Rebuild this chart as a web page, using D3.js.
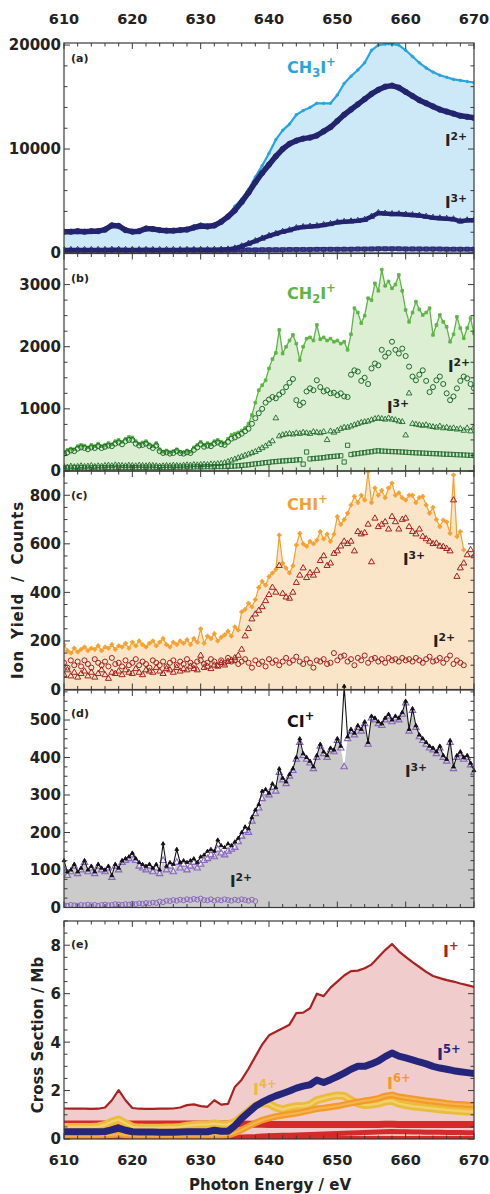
<!DOCTYPE html>
<html><head><meta charset="utf-8">
<script src="https://cdn.jsdelivr.net/npm/d3@7"></script>
<style>body{margin:0;background:#fff}svg{display:block}text{font-family:"DejaVu Sans",sans-serif}</style>
</head><body><svg id="c" width="490" height="1194"></svg>
<script>
// ---------- DATA (x = 610 + i*step) ----------
const xTicks = [610,620,630,640,650,660,670];
// Panel (a), 1 eV step
const aCH3I = [2150,2150,2200,2150,2200,2250,2350,2800,2750,2300,
 2150,2200,2450,2400,2300,2250,2250,2300,2350,2600,
 2800,2700,2750,3000,3600,4500,5200,6100,7300,8400,
 9600,10900,11800,12400,13300,13700,14000,14400,14400,14400,
 15200,16300,17000,17600,18300,19500,20000,20100,20100,20000,
 19500,18900,18300,17800,17400,17100,16900,16700,16600,16500,16400];
const aI2 = [2050,2050,2100,2050,2100,2100,2250,2650,2600,2200,
 2050,2100,2350,2300,2200,2150,2150,2200,2250,2450,
 2600,2550,2650,3000,3500,4100,4900,5800,6800,7700,
 8500,9300,10000,10500,10800,11000,11100,11300,11700,12100,
 12700,13300,13800,14300,14800,15300,15700,16000,16100,15900,
 15500,15100,14700,14400,14100,13800,13600,13400,13200,13100,13000];
const aI3 = [300,300,300,300,300,300,300,320,320,300,
 300,300,310,300,300,300,300,300,310,310,
 310,310,320,330,350,450,650,900,1150,1400,
 1650,1850,2050,2200,2400,2500,2550,2600,2700,2800,
 2950,3000,3050,3100,3200,3500,3850,3800,3750,3750,
 3700,3650,3600,3500,3400,3350,3300,3250,3050,3150,3150];
const aI4 = [260,260,260,260,260,260,260,260,260,260,
 260,260,260,260,260,260,260,260,260,260,
 260,260,260,260,270,280,290,300,300,310,
 310,320,320,330,330,340,340,350,350,360,
 360,370,370,380,380,390,400,400,400,400,
 390,390,390,380,380,380,370,370,370,370,370];
// Panel (b), 0.5 eV step
const bCH2I = [300,340,360,350,400,420,410,380,420,400,
 440,400,420,450,430,480,500,470,520,550,
 540,480,440,460,480,430,400,450,350,310,
 330,300,320,350,310,300,330,310,380,420,
 470,420,450,430,480,500,470,450,520,580,
 600,620,650,690,760,900,1100,1300,1380,1460,
 1650,1800,1900,2270,1890,2000,2100,2190,2050,1785,
 2000,2130,2150,2100,2350,2120,2150,2100,2130,2080,
 2100,2050,2080,1950,2200,2620,2550,2380,2500,2780,
 2750,3020,2900,3240,2980,3050,2940,3000,3155,2900,
 2590,2400,2550,2725,2600,2510,2550,2620,2190,2350,
 2510,2400,2320,2080,2200,2480,2300,2135,2300,2460,2215];
const bI2 = [280,300,330,320,360,380,370,350,380,370,
 400,370,390,410,400,440,460,430,480,500,
 500,440,410,420,440,400,370,410,320,290,
 300,280,290,320,290,280,300,290,340,380,
 430,390,410,400,440,460,430,420,470,520,
 540,570,600,640,680,760,850,930,1000,1100,
 1150,1190,1170,1230,1270,1350,1420,1480,1140,1060,
 1100,1280,1330,1300,1460,1350,1280,1300,1250,1260,
 1220,1250,1200,1190,1550,1620,1600,1450,1500,1400,
 1650,1730,1700,1950,1840,1900,2080,1950,1890,1970,
 1850,1680,1520,1460,1550,1620,1450,1270,1350,1460,
 1520,1400,1250,1140,1200,1330,1450,1520,1490,1400,1330];
const bI3 = [70,60,75,65,70,80,70,75,85,70,
 80,75,85,90,80,95,90,85,80,90,
 85,80,90,85,80,90,85,80,75,80,
 85,80,90,85,80,90,95,90,100,95,
 100,105,100,110,110,115,120,130,150,170,
 190,210,230,250,270,290,310,340,370,400,
 440,480,850,560,580,590,600,590,610,600,
 620,610,600,630,620,610,630,500,640,620,
 650,680,700,700,720,740,760,780,790,800,
 820,840,850,840,830,850,830,820,800,790,
 575,1250,760,750,740,730,740,720,710,700,
 720,690,700,680,690,670,680,650,690,640,700];
const bI4 = [45,50,48,52,50,55,50,48,52,55,
 50,53,55,58,55,60,58,55,57,60,
 58,55,57,60,58,62,60,58,55,57,
 60,58,60,62,60,63,65,62,65,68,
 65,68,70,68,70,72,70,72,75,78,
 80,85,90,95,100,108,115,120,128,135,
 140,148,152,158,162,165,170,172,178,182,
 110,306,195,200,205,210,215,225,230,235,
 240,245,145,414,265,275,280,290,295,305,
 310,320,325,320,318,315,312,310,308,305,
 302,298,295,292,290,288,285,282,280,278,
 275,272,270,268,265,262,260,258,255,252,250];
// Panel (c), 0.5 eV step
const cCHI = [185,160,150,170,155,165,175,160,170,165,
 180,160,175,170,185,165,180,175,190,170,
 195,180,200,185,175,190,200,180,195,210,
 185,175,195,185,200,190,205,185,210,195,
 250,190,220,210,230,200,215,225,240,220,
 258,245,320,330,355,340,370,420,445,430,
 465,480,495,636,520,500,480,510,595,643,
 600,590,610,600,615,650,620,640,610,640,
 712,680,700,726,760,795,770,800,780,897,
 770,830,800,820,790,830,850,800,810,790,
 780,800,800,770,790,795,760,726,750,700,
 671,698,690,643,884,630,650,575];
const cI3 = [60,80,55,70,50,65,75,55,70,50,
 65,80,60,45,70,65,75,60,80,70,
 65,85,70,60,80,75,70,90,75,65,
 85,80,70,90,75,85,80,95,85,80,
 140,90,95,85,100,95,110,100,115,120,
 130,140,165,220,250,290,310,325,340,365,
 390,420,400,510,395,380,375,400,440,470,
 500,460,480,470,490,530,550,510,520,560,
 570,590,610,600,610,570,650,640,645,680,
 525,705,670,680,690,660,712,690,660,700,
 705,670,650,640,660,630,620,610,600,602,
 590,588,580,570,780,465,500,520,554,575,550];
const cI2 = [110,90,120,100,115,95,120,105,90,125,
 110,100,115,95,130,105,110,95,120,100,
 110,125,100,115,105,90,120,110,100,115,
 95,110,120,100,115,105,125,110,100,115,
 120,105,110,125,115,100,120,110,130,115,
 120,105,115,125,110,90,120,105,115,95,
 125,110,120,100,115,130,110,120,135,115,
 105,125,110,90,120,115,125,105,110,150,
 120,135,140,115,125,100,130,120,140,110,
 125,130,115,125,110,130,120,125,115,130,
 120,125,115,130,120,110,125,135,115,120,
 130,110,125,140,105,120,110,100];
// Panel (d), 0.5 eV step
const dCI = [125,95,100,115,95,105,125,100,110,95,
 115,105,100,110,85,115,105,125,130,135,
 145,130,120,115,110,115,105,115,100,170,
 110,120,115,155,120,125,120,125,130,120,
 135,140,150,155,150,180,165,160,170,165,
 175,185,200,215,210,240,260,275,310,315,
 305,330,320,370,345,335,355,370,400,450,
 410,400,390,375,405,435,415,405,425,420,
 450,430,590,455,475,465,485,475,495,440,
 510,505,495,490,505,515,500,510,505,520,
 550,475,530,485,460,450,440,430,425,415,
 430,405,395,445,375,405,415,400,405,385,365];
const dI3 = [100,85,95,110,90,100,120,95,105,90,
 110,100,95,105,80,110,100,120,125,130,
 140,125,110,105,100,110,95,105,90,125,
 100,110,95,120,105,115,100,110,120,105,
 115,125,130,140,135,155,145,140,150,155,
 160,175,190,205,200,230,250,265,290,305,
 300,320,310,360,340,330,350,365,395,440,
 405,395,385,370,400,430,410,400,420,415,
 445,425,375,450,470,460,480,470,490,435,
 505,500,490,485,500,510,495,505,500,515,
 545,470,525,480,455,445,435,425,420,410,
 425,400,390,440,370,400,410,395,400,380,360];
const dI2 = [6,5,7,6,5,7,6,8,6,7,
 5,7,8,6,7,9,8,7,9,8,
 10,9,11,10,12,11,13,12,16,14,
 18,17,20,18,21,19,22,20,23,21,
 24,20,19,22,18,21,19,22,20,18,
 21,19,22,20,18,21,17];
// Panel (e), 1 eV step, Mb
const eI1 = [1.26,1.25,1.25,1.25,1.24,1.25,1.3,1.6,2.02,1.6,
 1.28,1.25,1.24,1.24,1.25,1.25,1.26,1.3,1.4,1.43,
 1.36,1.33,1.6,1.42,1.45,2.15,2.45,2.9,3.4,3.9,
 4.28,4.43,4.57,4.72,5.2,5.22,5.4,6.0,5.9,6.25,
 6.5,6.75,6.93,6.95,7.05,7.2,7.5,7.8,8.05,7.75,
 7.52,7.3,7.1,6.9,6.73,6.64,6.56,6.5,6.42,6.35,6.28];
const eI5 = [0.3,0.3,0.3,0.3,0.3,0.3,0.31,0.38,0.45,0.36,
 0.3,0.29,0.29,0.29,0.28,0.28,0.28,0.29,0.3,0.3,
 0.3,0.3,0.36,0.32,0.32,0.55,0.85,1.1,1.35,1.52,
 1.66,1.78,1.88,1.98,2.1,2.18,2.24,2.43,2.33,2.45,
 2.58,2.72,2.88,3.0,3.0,3.1,3.22,3.4,3.55,3.42,
 3.35,3.27,3.18,3.1,3.0,2.93,2.88,2.82,2.78,2.74,2.7];
const eI4 = [0.5,0.5,0.5,0.5,0.5,0.52,0.58,0.72,0.8,0.65,
 0.5,0.47,0.46,0.46,0.46,0.47,0.48,0.5,0.55,0.58,
 0.6,0.6,0.64,0.6,0.6,0.7,0.92,1.15,1.38,1.48,
 1.45,1.3,1.22,1.3,1.35,1.35,1.42,1.6,1.68,1.75,
 1.8,1.78,1.6,1.47,1.4,1.42,1.46,1.55,1.58,1.46,
 1.4,1.35,1.32,1.29,1.26,1.23,1.2,1.18,1.16,1.14,1.12];
const eI6 = [0.14,0.14,0.14,0.14,0.14,0.14,0.15,0.17,0.2,0.16,
 0.14,0.14,0.14,0.14,0.14,0.14,0.14,0.14,0.14,0.14,
 0.14,0.14,0.15,0.14,0.16,0.25,0.38,0.52,0.66,0.78,
 0.86,0.93,0.98,1.02,1.06,1.12,1.18,1.25,1.28,1.32,
 1.36,1.42,1.48,1.53,1.58,1.62,1.68,1.78,1.82,1.75,
 1.7,1.66,1.62,1.58,1.55,1.52,1.48,1.45,1.43,1.41,1.4];
const eI2 = [0.62,0.62,0.62,0.62,0.62,0.62,0.62,0.64,0.66,0.63,
 0.62,0.62,0.62,0.62,0.62,0.62,0.62,0.62,0.62,0.62,
 0.62,0.62,0.62,0.62,0.62,0.62,0.62,0.61,0.61,0.61,
 0.6,0.6,0.6,0.6,0.6,0.6,0.6,0.6,0.6,0.6,
 0.6,0.6,0.6,0.6,0.6,0.6,0.6,0.61,0.61,0.6,
 0.6,0.6,0.6,0.6,0.6,0.6,0.6,0.6,0.6,0.6,0.6];
const eI3 = [0.08,0.08,0.08,0.08,0.08,0.08,0.08,0.08,0.08,0.08,
 0.08,0.08,0.08,0.08,0.08,0.08,0.08,0.08,0.08,0.08,
 0.08,0.08,0.08,0.08,0.08,0.08,0.08,0.09,0.1,0.12,
 0.13,0.14,0.15,0.16,0.17,0.18,0.19,0.2,0.21,0.22,
 0.23,0.24,0.25,0.26,0.27,0.28,0.29,0.3,0.31,0.3,
 0.3,0.29,0.29,0.28,0.28,0.28,0.27,0.27,0.27,0.26,0.26];
const eI0 = [0.04,0.04,0.04,0.04,0.04,0.04,0.04,0.04,0.04,0.04,
 0.04,0.04,0.04,0.04,0.04,0.04,0.04,0.04,0.04,0.04,
 0.04,0.04,0.04,0.04,0.04,0.04,0.04,0.04,0.04,0.04,
 0.04,0.04,0.04,0.04,0.04,0.04,0.04,0.04,0.04,0.04,
 0.04,0.04,0.04,0.04,0.04,0.04,0.04,0.04,0.04,0.04,
 0.04,0.04,0.04,0.04,0.04,0.04,0.04,0.04,0.04,0.04,0.04];

// ---------- LAYOUT ----------
const svg = d3.select('#c');
const X = d3.scaleLinear().domain([610,670]).range([64,474]);
const FR = '#3a3a3a', TXT = '#222';
const PANELS = [
 {key:'a', top:43, bot:253, max:20200, major:10000, minor:2000},
 {key:'b', top:253.5, bot:471, max:3500, major:1000, minor:250},
 {key:'c', top:471, bot:689.5, max:900, major:200, minor:50},
 {key:'d', top:690, bot:907.5, max:580, major:100, minor:25},
 {key:'e', top:921, bot:1139, max:9, major:2, minor:0.5}
];
const Y = {};
PANELS.forEach(p => { Y[p.key] = d3.scaleLinear().domain([0,p.max]).range([p.bot,p.top]); });

const defs = svg.append('defs');
const layer = {};
PANELS.forEach(p => {
  defs.append('clipPath').attr('id','clip'+p.key).append('rect')
    .attr('x',64).attr('y',p.top).attr('width',410).attr('height',p.bot-p.top);
  layer[p.key] = svg.append('g').attr('clip-path',`url(#clip${p.key})`);
});

const xOf = step => (d,i) => X(610 + i*step);
function area(g, arr, step, y, color){
  g.append('path').datum(arr).attr('fill',color)
   .attr('d', d3.area().x(xOf(step)).y0(y(0)).y1(d=>y(d)));
}
function line(g, arr, step, y, color, w, extra){
  const p = g.append('path').datum(arr).attr('fill','none').attr('stroke',color)
   .attr('stroke-width',w).attr('stroke-linejoin','round').attr('stroke-linecap','round')
   .attr('d', d3.line().x(xOf(step)).y(d=>y(d)));
  if (extra) extra(p);
}
function syms(g, arr, step, y, type, size, color, filled, sw){
  g.append('g').selectAll('path').data(arr).join('path')
   .attr('transform',(d,i)=>`translate(${X(610+i*step)},${y(d)})`)
   .attr('d', d3.symbol().type(type).size(size))
   .attr('fill', filled ? color : 'none').attr('stroke', color).attr('stroke-width', sw||0.9);
}

// ---------- Panel a ----------
{const g = layer.a, y = Y.a, c = '#29a4de', nv = '#24246e';
 area(g, aCH3I, 1, y, '#cde9f7');
 line(g, aCH3I, 1, y, c, 2.2);
 syms(g, aCH3I, 1, y, d3.symbolCircle, 5, c, true);
 line(g, aI4, 1, y, '#3a3a86', 4.5);
 syms(g, aI4, 1, y, d3.symbolSquare, 16, nv, false, 0.8);
 line(g, aI3, 1, y, nv, 4.5);
 syms(g, aI3, 1, y, d3.symbolTriangle, 16, nv, false, 0.9);
 line(g, aI2, 1, y, nv, 5.5);
 syms(g, aI2, 1, y, d3.symbolCircle, 22, nv, false, 1);
}
// ---------- Panel b ----------
{const g = layer.b, y = Y.b, c = '#5db447', dg = '#1e6a2c';
 area(g, bCH2I, 0.5, y, '#dcefd3');
 line(g, bCH2I, 0.5, y, c, 1.3);
 syms(g, bCH2I, 0.5, y, d3.symbolSquare, 7, c, true);
 syms(g, bI4, 0.5, y, d3.symbolSquare, 18, dg, false, 0.9);
 syms(g, bI3, 0.5, y, d3.symbolTriangle, 14, dg, false, 0.9);
 syms(g, bI2, 0.5, y, d3.symbolCircle, 20, dg, false, 1);
}
// ---------- Panel c ----------
{const g = layer.c, y = Y.c, c = '#f5a030', dr = '#a3201f';
 const fillC = d3.range(cI3.length).map(i => i < cCHI.length ? cCHI[i] : cI3[i]);
 area(g, fillC, 0.5, y, '#fbe5c8');
 line(g, cCHI, 0.5, y, c, 1.2);
 syms(g, cCHI, 0.5, y, d3.symbolCross, 8, c, true);
 syms(g, cI2, 0.5, y, d3.symbolCircle, 20, dr, false, 1);
 syms(g, cI3, 0.5, y, d3.symbolTriangle, 16, dr, false, 1);
}
// ---------- Panel d ----------
{const g = svg.append('g'), y = Y.d, pu = '#8a66c0';
 area(layer.d, dI3, 0.5, y, '#cbcbcb');
 syms(layer.d, dI2, 0.5, y, d3.symbolCircle, 18, pu, false, 1);
 syms(layer.d, dI3, 0.5, y, d3.symbolTriangle, 18, pu, false, 1.1);
 line(g, dCI, 0.5, y, '#111', 1.1);
 syms(g, dCI, 0.5, y, d3.symbolTriangle, 6, '#111', true);
}
// ---------- Panel e ----------
{const g = layer.e, y = Y.e;
 area(g, eI1, 1, y, '#f0cccc');
 line(g, eI0, 1, y, '#d42a2a', 4);
 line(g, eI3, 1, y, '#d42a2a', 5);
 line(g, eI2, 1, y, '#d42a2a', 7);
 line(g, eI4, 1, y, '#ebbb3a', 8);
 line(g, eI4, 1, y, '#f2d06e', 2.5);
 line(g, eI6, 1, y, '#f39a28', 6.5);
 line(g, eI6, 1, y, '#f6b453', 2);
 line(g, eI5, 1, y, '#25257c', 7);
 line(g, eI1, 1, y, '#a82222', 2.2);
}

// ---------- Frames & ticks ----------
PANELS.forEach(p => {
  const g = svg.append('g'), y = Y[p.key];
  g.append('rect').attr('x',64).attr('y',p.top).attr('width',410).attr('height',p.bot-p.top)
   .attr('fill','none').attr('stroke',FR).attr('stroke-width',1.2);
  const yMaj = d3.range(0, p.max + 1e-9, p.major);
  const yMin = d3.range(0, p.max + 1e-9, p.minor).filter(v => Math.abs(v/p.major - Math.round(v/p.major)) > 1e-6);
  const tk = (x1,y1,x2,y2) => g.append('line').attr('x1',x1).attr('y1',y1).attr('x2',x2).attr('y2',y2).attr('stroke',FR).attr('stroke-width',1);
  yMaj.forEach(v => { tk(64,y(v),70,y(v)); tk(474,y(v),468,y(v)); });
  yMin.forEach(v => { tk(64,y(v),67.5,y(v)); tk(474,y(v),470.5,y(v)); });
  d3.range(610, 670.1, 2).forEach(v => {
    const L = (v % 10 === 0) ? 6 : 3.5;
    tk(X(v),p.top,X(v),p.top+L); tk(X(v),p.bot,X(v),p.bot-L);
  });
  yMaj.forEach(v => g.append('text').attr('x',61).attr('y',y(v)).attr('dy','0.36em')
    .attr('text-anchor','end').attr('font-size',15).attr('font-weight','bold').attr('fill',TXT).text(v));
});
xTicks.forEach(v => {
  svg.append('text').attr('x',X(v)).attr('y',24).attr('text-anchor','middle')
   .attr('font-size',14.5).attr('font-weight','bold').attr('fill',TXT).text(v);
  svg.append('text').attr('x',X(v)).attr('y',1165).attr('text-anchor','middle')
   .attr('font-size',14.5).attr('font-weight','bold').attr('fill',TXT).text(v);
});

// ---------- Labels ----------
function rich(x, y, parts, color, size){
  const t = svg.append('text').attr('x',x).attr('y',y).attr('fill',color)
    .attr('font-size',size).attr('font-weight','bold');
  let cur = 0;
  parts.forEach(pt => {
    const s = Array.isArray(pt) ? pt[0] : pt, k = Array.isArray(pt) ? pt[1] : null;
    const target = k==='sup' ? -0.42*size : k==='sub' ? 0.22*size : 0;
    t.append('tspan').attr('dy', target - cur).attr('font-size', k ? size*0.72 : size).text(s);
    cur = target;
  });
}
['a','b','c','d','e'].forEach((k,i) => {
  const yy = [62,282,499,717,948][i];
  svg.append('text').attr('x',71).attr('y',yy).attr('font-size',11).attr('font-weight','bold')
    .attr('fill',TXT).text(`(${k})`);
});
rich(287,73,['CH',['3','sub'],'I',['+','sup']],'#29a4de',16);
rich(445,146,['I',['2+','sup']],TXT,15);
rich(445,208,['I',['3+','sup']],TXT,15);
rich(287,299,['CH',['2','sub'],'I',['+','sup']],'#5db447',16);
rich(448,372,['I',['2+','sup']],TXT,15);
rich(387,413,['I',['3+','sup']],TXT,15);
rich(287,510,['CHI',['+','sup']],'#f5a030',16);
rich(403,565,['I',['3+','sup']],TXT,15);
rich(433,647,['I',['2+','sup']],TXT,15);
rich(287,727,['CI',['+','sup']],'#111',16);
rich(405,777,['I',['3+','sup']],TXT,15);
rich(230,887,['I',['2+','sup']],TXT,15);
rich(443,957,['I',['+','sup']],'#a82222',16);
rich(437,1060,['I',['5+','sup']],'#25257c',16);
rich(387,1089,['I',['6+','sup']],'#f39a28',16);
rich(253,1095,['I',['4+','sup']],'#ebbb3a',16);

svg.append('text').attr('transform','translate(23,590) rotate(-90)').attr('text-anchor','middle')
  .attr('font-size',15).attr('font-weight','bold').attr('fill',TXT)
  .attr('letter-spacing',0.8).attr('word-spacing',5).text('Ion Yield / Counts');
svg.append('text').attr('transform','translate(43,1035) rotate(-90)').attr('text-anchor','middle')
  .attr('font-size',15).attr('font-weight','bold').attr('fill',TXT).text('Cross Section / Mb');
svg.append('text').attr('x',270).attr('y',1190).attr('text-anchor','middle')
  .attr('font-size',15).attr('font-weight','bold').attr('fill',TXT).text('Photon Energy / eV');
</script></body></html>
